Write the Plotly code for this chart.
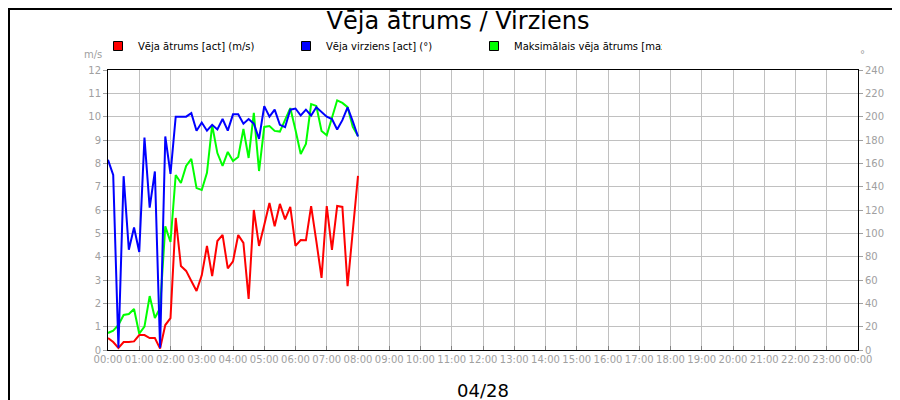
import pandas as pd
import plotly.graph_objects as go

times = pd.date_range("2024-04-28 00:00", periods=49, freq="10min")

speed_act = [0.51, 0.34, 0.09, 0.34, 0.34, 0.37, 0.64, 0.64, 0.51, 0.51, 0.06, 1.07, 1.37,
             5.66, 3.6, 3.39, 2.96, 2.53, 3.2, 4.46, 3.17, 4.67, 4.93, 3.5, 3.8, 4.93,
             4.59, 2.19, 6.0, 4.46, 5.36, 6.3, 5.3, 6.26, 5.6, 6.13, 4.46, 4.71, 4.7,
             6.17, 4.67, 3.09, 6.17, 4.29, 6.17, 6.13, 2.74, 5.1, 7.46]
direction = [163, 150, 2, 149, 86, 105, 84, 182, 122, 153, 2, 183, 151, 200, 200, 200,
             203, 188, 195, 188, 193, 189, 198, 188, 202, 202,
             194, 198, 194, 181, 209, 200, 206, 193, 191, 206, 207, 201, 206, 201,
             208, 204, 200, 198, 189, 197, 208, 196, 183]
speed_max = [0.73, 0.83, 1.07, 1.5, 1.54, 1.76, 0.7, 1.0, 2.31, 1.37, 1.8, 5.3, 4.63,
             7.5, 7.16, 7.89, 8.19, 6.94, 6.86, 7.59, 9.64, 8.44, 7.89, 8.49, 8.1, 8.27,
             9.47, 8.23, 10.16, 7.67, 9.56, 9.6, 9.39, 9.36, 9.86, 10.37, 9.43, 8.4,
             8.83, 10.54, 10.46, 9.39, 9.2, 9.94, 10.7, 10.59, 10.41, 9.56, 9.17]

names = ["Vēja ātrums [act] (m/s)", "Vēja virziens [act] (°)", "Maksimālais vēja ātrums [max] (m/s)"]
colors = ["#ff0000", "#0000ff", "#00ff00"]

tick_vals = pd.date_range("2024-04-28 00:00", periods=25, freq="1h")
tick_text = [t.strftime("%H:%M") for t in tick_vals]

fig = go.Figure()
fig.add_trace(go.Scatter(x=times, y=speed_max, mode="lines", line=dict(color=colors[2], width=2), showlegend=False))
fig.add_trace(go.Scatter(x=times, y=speed_act, mode="lines", line=dict(color=colors[0], width=2), showlegend=False))
fig.add_trace(go.Scatter(x=times, y=direction, mode="lines", line=dict(color=colors[1], width=2),
                         yaxis="y2", showlegend=False))
# legend entries with square markers
for n, c in zip(names, colors):
    fig.add_trace(go.Scatter(x=[None], y=[None], mode="markers", name=n,
                             marker=dict(symbol="square", size=9, color=c, line=dict(color="black", width=1))))

grid = "#c0c0c0"
fig.update_layout(
    width=900, height=400,
    margin=dict(l=100, r=50, t=62, b=58, autoexpand=False),
    paper_bgcolor="white", plot_bgcolor="white",
    font=dict(family="DejaVu Sans", size=10, color="black"),
    title=dict(text="Vēja ātrums / Virziens", x=0.5, xanchor="center", yref="container", y=0.99,
               yanchor="top", font=dict(size=24, family="DejaVu Sans")),
    legend=dict(orientation="h", xref="container", yref="container", x=0.1, y=0.905,
                xanchor="left", yanchor="middle", font=dict(size=10), entrywidth=143,
                entrywidthmode="pixels", itemwidth=30, bgcolor="rgba(0,0,0,0)", tracegroupgap=0),
    xaxis=dict(range=[tick_vals[0], tick_vals[-1]], tickvals=tick_vals, ticktext=tick_text,
               showgrid=True, gridcolor=grid, gridwidth=1, ticks="inside", ticklen=4,
               tickcolor="#808080", tickfont=dict(color="#a0a0a0", size=10),
               showline=True, linecolor="black", linewidth=1, mirror=True, zeroline=False),
    yaxis=dict(range=[0, 12], dtick=1, showgrid=True, gridcolor=grid, ticks="outside", ticklen=4,
               tickcolor="#a0a0a0", tickfont=dict(color="#a0a0a0", size=10),
               showline=True, linecolor="black", linewidth=1, zeroline=False),
    yaxis2=dict(range=[0, 240], dtick=20, overlaying="y", side="right", showgrid=False,
                ticks="outside", ticklen=4, tickcolor="#a0a0a0",
                tickfont=dict(color="#a0a0a0", size=10),
                showline=True, linecolor="black", linewidth=1, zeroline=False),
    shapes=[dict(type="rect", xref="paper", yref="paper", x0=-0.1320, x1=1.0653, y0=-0.2036, y1=1.2179,
                 line=dict(color="black", width=2))],
    annotations=[
        dict(text="m/s", xref="paper", yref="paper", x=-0.005, y=1.03, xanchor="right",
             yanchor="bottom", showarrow=False, font=dict(color="#a0a0a0", size=10)),
        dict(text="°", xref="paper", yref="paper", x=1.0, y=1.03, xanchor="left",
             yanchor="bottom", showarrow=False, font=dict(color="#a0a0a0", size=10)),
        dict(text="04/28", xref="paper", yref="paper", x=0.5, y=-0.1, xanchor="center",
             yanchor="top", showarrow=False, font=dict(size=18)),
    ],
)

fig.write_html("out.html")
